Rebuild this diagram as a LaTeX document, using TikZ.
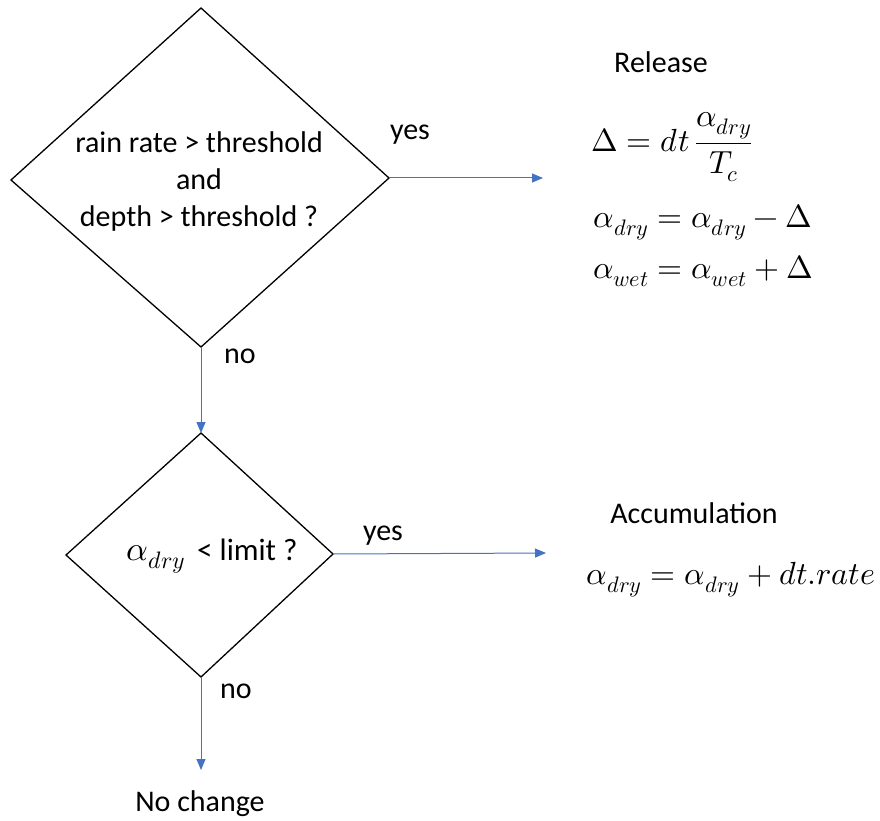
\documentclass[tikz,border=0pt]{standalone}
\usepackage{amsmath}
\usepackage{fontspec}
\usepackage{unicode-math}
\setmainfont{Carlito}
\setmathfont{Latin Modern Math}
\usetikzlibrary{arrows.meta,shapes.geometric}
\definecolor{arrowblue}{RGB}{68,114,196}
\tikzset{
  flow/.style={draw=arrowblue, line width=1pt, -{Triangle[length=11pt,width=9pt]}},
  lbl/.style={font=\fontsize{30}{36}\selectfont, inner sep=0pt},
  eq/.style={font=\fontsize{32}{36}\selectfont, inner sep=0pt},
}
\newcommand{\bigmath}[1]{{\fontsize{34}{36}\selectfont$#1$}}
\begin{document}
\begin{tikzpicture}[x=1pt,y=-1pt]
\useasboundingbox (0,0) rectangle (880,821);
\coordinate (d1l) at (11,180);
\coordinate (d1t) at (201,8);
\coordinate (d1r) at (389,178);
\coordinate (d1b) at (201,347);
\draw[line width=1.3pt, line join=miter] (d1l) -- (d1t) -- (d1r) -- (d1b) -- cycle;
\node[lbl, align=center, font=\fontsize{30}{37}\selectfont] (q1) at (199,182) {rain rate > threshold\\and\\depth > threshold ?};

\coordinate (d2l) at (66,555);
\coordinate (d2t) at (201,433);
\coordinate (d2r) at (333,554);
\coordinate (d2b) at (201,677);
\draw[line width=1.3pt, line join=miter] (d2l) -- (d2t) -- (d2r) -- (d2b) -- cycle;
\node[lbl, font=\fontsize{31}{36}\selectfont] (q2) at (212,556) {\bigmath{\alpha_{dry}}\, < limit ?};

\coordinate (rel) at (543,178);
\coordinate (acc) at (546,553);
\coordinate (nch) at (201,770);

\draw[flow] (d1r) -- (rel);
\draw[flow] (d1b) -- (d2t);
\draw[flow] (d2r) -- (acc);
\draw[flow] (d2b) -- (nch);

\node[lbl] (yes1) at (410,135) {yes};
\node[lbl] (no1) at (240,356) {no};
\node[lbl] (yes2) at (383,536) {yes};
\node[lbl] (no2) at (236,691) {no};
\node[lbl] (nochange) at (200,804) {No change};

\node[lbl] (release) at (661,62) {Release};
\node[eq] (e1) at (672,147) {$\Delta = dt\,\dfrac{\alpha_{dry}}{T_c}$};
\node[eq] (e2) at (703,222) {$\alpha_{dry} = \alpha_{dry} - \Delta$};
\node[eq] (e3) at (703,271) {$\alpha_{wet} = \alpha_{wet} + \Delta$};

\node[lbl] (accum) at (694,513) {Accumulation};
\node[eq] (e4) at (731,580) {$\alpha_{dry} = \alpha_{dry} + dt.rate$};
\end{tikzpicture}
\end{document}
